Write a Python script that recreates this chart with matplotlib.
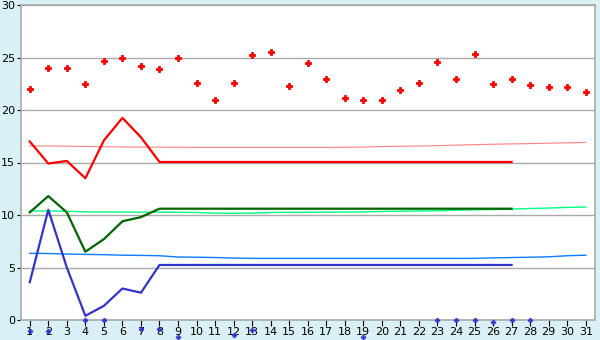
import numpy as np
import matplotlib
matplotlib.use("Agg")
import matplotlib.pyplot as plt

nan = np.nan
days = list(range(1, 32))

red_points = [22.0, 24.0, 24.0, 22.5, 24.7, 25.0, 24.2, 23.9, 25.0, 22.6,
              21.0, 22.6, 25.2, 25.5, 22.3, 24.5, 23.0, 21.1, 21.0, 21.0,
              21.9, 22.6, 24.6, 23.0, 25.3, 22.5, 23.0, 22.35, 22.15, 22.2, 21.7]

red_line = [17.0, 14.9, 15.15, 13.5, 17.1, 19.25, 17.4, 15.05] + [15.05] * 19
green_line = [10.25, 11.8, 10.25, 6.5, 7.7, 9.4, 9.8, 10.6] + [10.6] * 19
blue_line = [3.6, 10.5, 5.0, 0.4, 1.35, 3.0, 2.6, 5.24] + [5.24] * 19

pink_line = [16.57, 16.57, 16.56, 16.53, 16.5, 16.48, 16.47, 16.46, 16.45, 16.44,
             16.44, 16.44, 16.44, 16.44, 16.44, 16.44, 16.44, 16.45, 16.47, 16.52,
             16.55, 16.57, 16.6, 16.65, 16.7, 16.74, 16.77, 16.8, 16.84, 16.87, 16.92]
lgreen_line = [10.38, 10.38, 10.36, 10.3, 10.29, 10.28, 10.27, 10.27, 10.26, 10.24,
               10.18, 10.16, 10.18, 10.24, 10.26, 10.26, 10.27, 10.28, 10.3, 10.34,
               10.36, 10.38, 10.4, 10.46, 10.5, 10.52, 10.56, 10.62, 10.66, 10.72, 10.76]
lblue_line = [6.35, 6.33, 6.28, 6.25, 6.22, 6.17, 6.15, 6.12, 6.0, 5.98,
              5.95, 5.9, 5.87, 5.87, 5.87, 5.87, 5.87, 5.87, 5.87, 5.87,
              5.87, 5.87, 5.87, 5.87, 5.87, 5.92, 5.95, 5.98, 6.02, 6.12, 6.17]

blue_points = [-1.0, -1.0, nan, 0.0, 0.0, nan, -0.9, -0.9, -1.6, nan,
               nan, -1.45, -0.95, nan, nan, nan, nan, nan, -1.65, nan,
               nan, nan, 0.0, 0.0, 0.0, -0.2, 0.0, 0.0, nan, nan, nan]

line_days = days[:len(red_line)]

bg = "#d9f0f6"
fig = plt.figure(figsize=(6, 3.4), dpi=100, facecolor=bg)
ax = fig.add_axes([20.5 / 600, 1 - 320 / 340, (595 - 20.5) / 600, 315 / 340])
ax.set_facecolor("white")

ax.plot(days, pink_line, color="#ff8080", lw=0.8, zorder=2)
ax.plot(days, lgreen_line, color="#00ff80", lw=1.0, zorder=2)
ax.plot(days, lblue_line, color="#0a7cff", lw=1.0, zorder=2)

ax.plot(line_days, red_line, color="#ff0000", lw=1.6, zorder=3)
ax.plot(line_days, green_line, color="#006400", lw=1.6, zorder=3)
ax.plot(line_days, blue_line, color="#3333cc", lw=1.6, zorder=3)

ax.plot(days, red_points, ls="none", marker="P", ms=4.5, color="#ff0000",
        mec="#ff0000", mew=0.6, zorder=4)
ax.plot(days, blue_points, ls="none", marker="P", ms=3.5, color="#3333cc",
        mec="#3333cc", mew=0.3, zorder=4, clip_on=False)

ax.set_xlim(0.5, 31.5)
ax.set_ylim(0, 30)
ax.set_xticks(days)
ax.set_xticklabels([str(d) for d in days])
ax.set_yticks(range(0, 31, 5))
ax.grid(axis="y", color="#aaaaaa", lw=1.0, zorder=1)
ax.set_axisbelow(True)
for s in ax.spines.values():
    s.set_color("#aaaaaa")
    s.set_linewidth(1.2)
ax.tick_params(axis="x", length=4, width=0.8, color="black", labelsize=8, pad=1)
ax.tick_params(axis="y", length=3, width=0.8, color="black", labelsize=8, pad=1)

fig.savefig("out.png", dpi=100, facecolor=bg)
